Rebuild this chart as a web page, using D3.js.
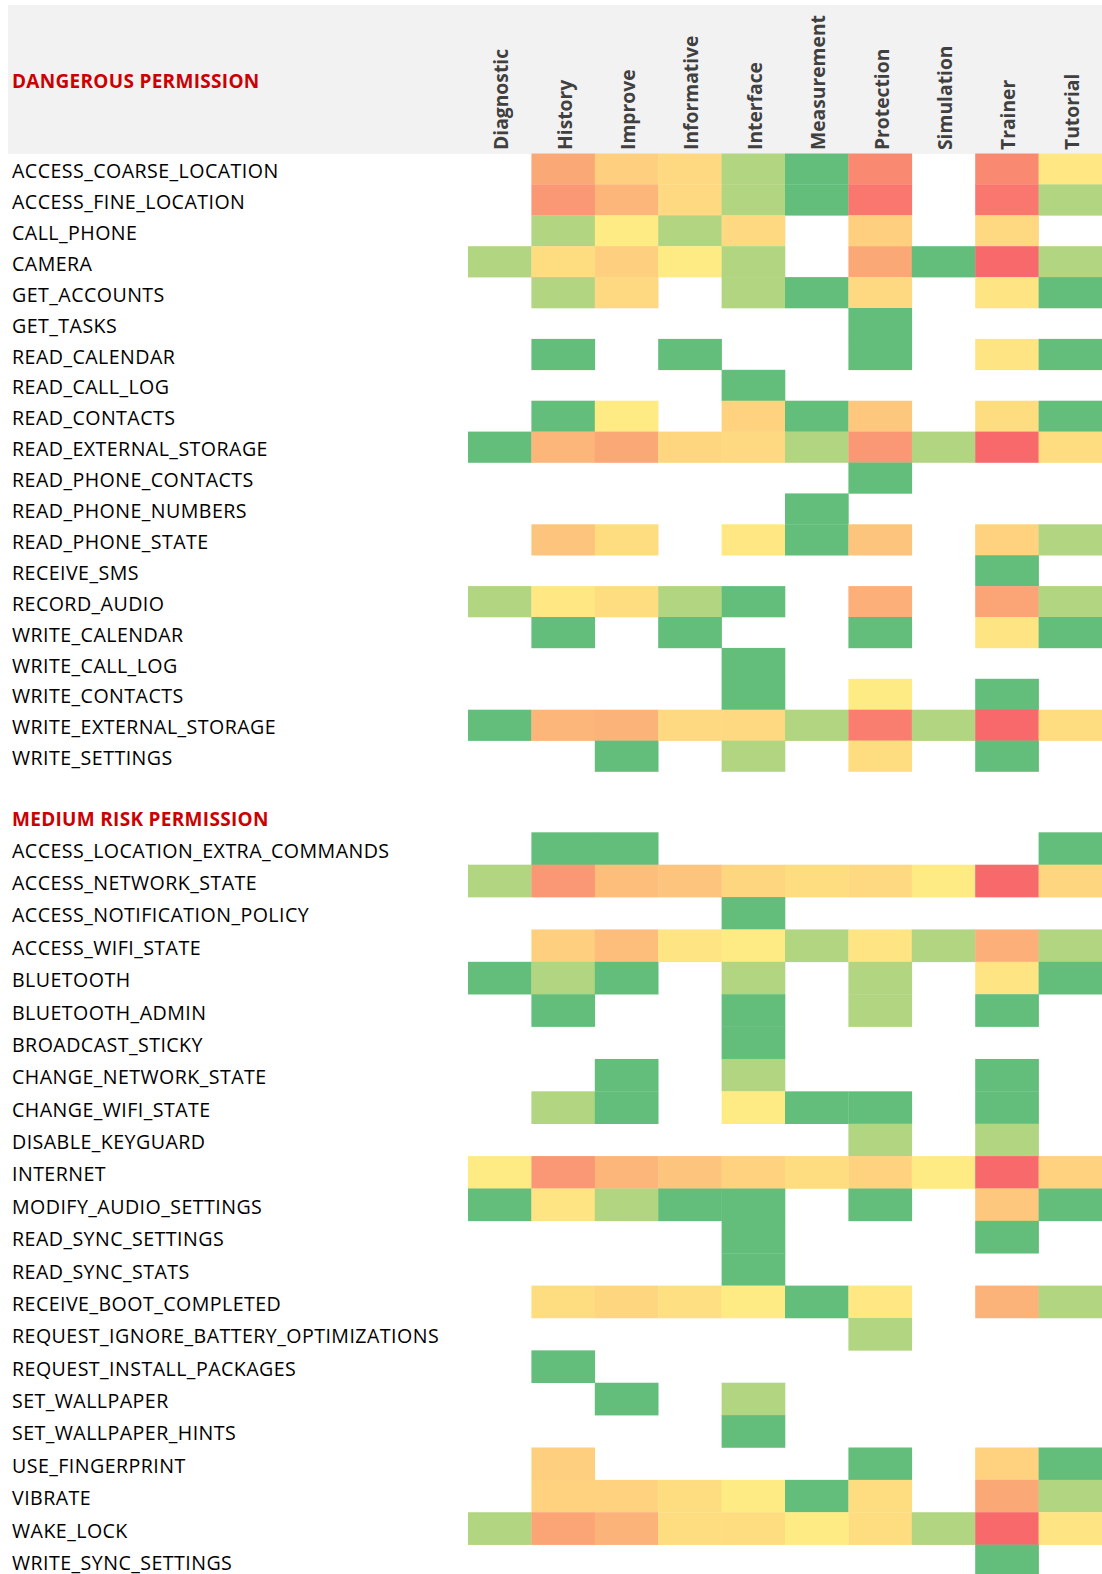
<!DOCTYPE html>
<html lang="en">
<head>
    <meta charset="UTF-8">
    <title>Permission heatmap</title>
    <script src="https://cdnjs.cloudflare.com/ajax/libs/d3/7.8.5/d3.min.js"></script>
    <style>
        body { margin: 0; background: #fff; }
        svg { display: block; }
        .row-label { font-family: "Open Sans", sans-serif; font-size: 19.6px; letter-spacing: 0.45px; fill: #000; }
        .col-label { font-family: "Open Sans", sans-serif; font-size: 19.3px; font-weight: bold; fill: #404040; }
        .section-label { font-family: "Open Sans", sans-serif; font-size: 19px; letter-spacing: 0.3px; font-weight: bold; fill: #cc0000; }
    </style>
</head>
<body>
    <div id="chart"></div>

    <script>
        // Column categories
        const columns = ["Diagnostic", "History", "Improve", "Informative", "Interface",
                         "Measurement", "Protection", "Simulation", "Trainer", "Tutorial"];

        const sectionTitles = ["DANGEROUS PERMISSION", "MEDIUM RISK PERMISSION"];

        // Dangerous permissions
        const dangerousRows = [
            "ACCESS_COARSE_LOCATION", "ACCESS_FINE_LOCATION", "CALL_PHONE", "CAMERA",
            "GET_ACCOUNTS", "GET_TASKS", "READ_CALENDAR", "READ_CALL_LOG", "READ_CONTACTS",
            "READ_EXTERNAL_STORAGE", "READ_PHONE_CONTACTS", "READ_PHONE_NUMBERS",
            "READ_PHONE_STATE", "RECEIVE_SMS", "RECORD_AUDIO", "WRITE_CALENDAR",
            "WRITE_CALL_LOG", "WRITE_CONTACTS", "WRITE_EXTERNAL_STORAGE", "WRITE_SETTINGS"
        ];
        const n = null;
        const dangerousValues = [
            [n, 22, 11, 8, 2, 1, 31, n, 31, 4],
            [n, 27, 18, 8, 2, 1, 36, n, 36, 2],
            [n, 2, 3, 2, 8, n, 11, n, 8, n],
            [2, 7, 11, 3, 2, n, 22, 1, 40, 2],
            [n, 2, 8, n, 2, 1, 8, n, 5, 1],
            [n, n, n, n, n, n, 1, n, n, n],
            [n, 1, n, 1, n, n, 1, n, 5, 1],
            [n, n, n, n, 1, n, n, n, n, n],
            [n, 1, 3, n, 10, 1, 13, n, 7, 1],
            [1, 18, 22, 9, 8, 2, 27, 2, 40, 7],
            [n, n, n, n, n, n, 1, n, n, n],
            [n, n, n, n, n, 1, n, n, n, n],
            [n, 14, 7, n, 4, 1, 14, n, 10, 2],
            [n, n, n, n, n, n, n, n, 1, n],
            [2, 4, 7, 2, 1, n, 20, n, 23, 2],
            [n, 1, n, 1, n, n, 1, n, 5, 1],
            [n, n, n, n, 1, n, n, n, n, n],
            [n, n, n, n, 1, n, 3, n, 1, n],
            [1, 18, 19, 8, 8, 2, 34, 2, 40, 7],
            [n, n, 1, n, 2, n, 7, n, 1, n]
        ];

        // Medium risk permissions
        const mediumRows = [
            "ACCESS_LOCATION_EXTRA_COMMANDS", "ACCESS_NETWORK_STATE", "ACCESS_NOTIFICATION_POLICY",
            "ACCESS_WIFI_STATE", "BLUETOOTH", "BLUETOOTH_ADMIN", "BROADCAST_STICKY",
            "CHANGE_NETWORK_STATE", "CHANGE_WIFI_STATE", "DISABLE_KEYGUARD", "INTERNET",
            "MODIFY_AUDIO_SETTINGS", "READ_SYNC_SETTINGS", "READ_SYNC_STATS",
            "RECEIVE_BOOT_COMPLETED", "REQUEST_IGNORE_BATTERY_OPTIMIZATIONS",
            "REQUEST_INSTALL_PACKAGES", "SET_WALLPAPER", "SET_WALLPAPER_HINTS",
            "USE_FINGERPRINT", "VIBRATE", "WAKE_LOCK", "WRITE_SYNC_SETTINGS"
        ];
        const mediumValues = [
            [n, 1, 1, n, n, n, n, n, n, 1],
            [2, 27, 16, 14, 9, 7, 8, 3, 40, 9],
            [n, n, n, n, 1, n, n, n, n, n],
            [n, 11, 16, 5, 3, 2, 5, 2, 20, 2],
            [1, 2, 1, n, 2, n, 2, n, 5, 1],
            [n, 1, n, n, 1, n, 2, n, 1, n],
            [n, n, n, n, 1, n, n, n, n, n],
            [n, n, 1, n, 2, n, n, n, 1, n],
            [n, 2, 1, n, 3, 1, 1, n, 1, n],
            [n, n, n, n, n, n, 2, n, 2, n],
            [3, 27, 18, 14, 10, 7, 10, 3, 40, 10],
            [1, 5, 2, 1, 1, n, 1, n, 13, 1],
            [n, n, n, n, 1, n, n, n, 1, n],
            [n, n, n, n, 1, n, n, n, n, n],
            [n, 7, 9, 6, 3, 1, 4, n, 19, 2],
            [n, n, n, n, n, n, 2, n, n, n],
            [n, 1, n, n, n, n, n, n, n, n],
            [n, n, 1, n, 2, n, n, n, n, n],
            [n, n, n, n, 1, n, n, n, n, n],
            [n, 11, n, n, n, n, 1, n, 10, 1],
            [n, 10, 10, 7, 3, 1, 7, n, 22, 2],
            [2, 23, 19, 7, 7, 3, 7, 2, 40, 5],
            [n, n, n, n, n, n, n, n, 1, n]
        ];

        const width = 1102;
        const height = 1574;

        // Excel style 3-colour scale: green (min) - yellow (mid) - red (max)
        const color = d3.scaleLinear()
            .domain([1, 3, 40])
            .range(["#63BE7B", "#FFEB84", "#F8696B"])
            .interpolate(d3.interpolateRgb);

        const svg = d3.select("#chart").append("svg")
            .attr("width", width)
            .attr("height", height);

        const x = d3.scaleBand()
            .domain(columns)
            .range([468, 1102]);

        const yDanger = d3.scaleBand()
            .domain(dangerousRows)
            .range([153.5, 771.5]);

        const yMedium = d3.scaleBand()
            .domain(mediumRows)
            .range([832.3, 1577]);

        // header band
        svg.append("rect")
            .attr("x", 8).attr("y", 5)
            .attr("width", width - 8).attr("height", 149)
            .attr("fill", "#f2f2f2");

        svg.append("text")
            .attr("class", "section-label")
            .attr("x", 12).attr("y", 80.5)
            .attr("dominant-baseline", "central")
            .text(sectionTitles[0]);

        svg.append("g").selectAll("text")
            .data(columns)
            .join("text")
            .attr("class", "col-label")
            .attr("transform", d => `translate(${x(d) + x.bandwidth() / 2 + 1},150) rotate(-90)`)
            .attr("dominant-baseline", "central")
            .text(d => d);

        function drawSection(rows, values, y) {
            const cells = [];
            rows.forEach((r, i) => {
                columns.forEach((c, j) => {
                    if (values[i][j] !== null) cells.push({ row: r, col: c, value: values[i][j] });
                });
            });

            const g = svg.append("g");
            g.selectAll("rect")
                .data(cells)
                .join("rect")
                .attr("x", d => x(d.col))
                .attr("y", d => y(d.row))
                .attr("width", x.bandwidth() + 0.3)
                .attr("height", y.bandwidth() + 0.3)
                .attr("fill", d => color(d.value));

            // labels sit on a baseline a little below the row centre, like Excel
            g.selectAll("text")
                .data(rows)
                .join("text")
                .attr("class", "row-label")
                .attr("x", 12)
                .attr("y", d => y(d) + y.bandwidth() / 2 + 9.2)
                .text(d => d);
        }

        drawSection(dangerousRows, dangerousValues, yDanger);

        svg.append("text")
            .attr("class", "section-label")
            .attr("x", 12).attr("y", 819)
            .attr("dominant-baseline", "central")
            .text(sectionTitles[1]);

        drawSection(mediumRows, mediumValues, yMedium);
    </script>
</body>
</html>
